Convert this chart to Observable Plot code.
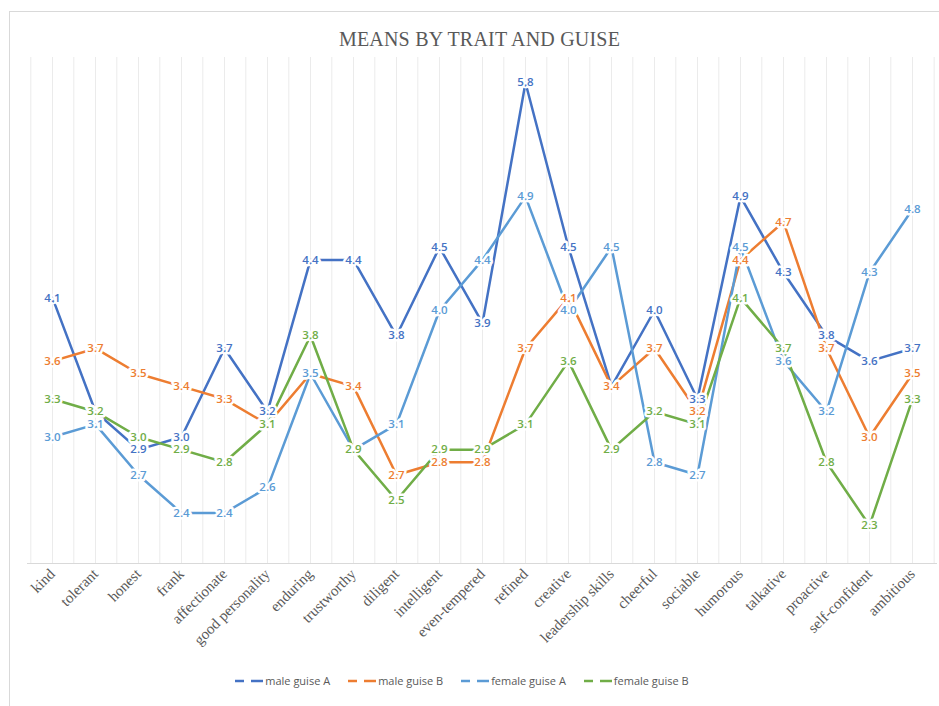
<!DOCTYPE html>
<html><head><meta charset="utf-8">
<script src="https://cdn.jsdelivr.net/npm/d3@7"></script>
<script src="https://cdn.jsdelivr.net/npm/@observablehq/plot@0.6"></script>
<style>
body{margin:0;background:#fff;}
#chart{position:relative;width:939px;height:706px;overflow:hidden;background:#fff;}
#frame{position:absolute;left:9px;top:11px;width:1000px;height:1000px;border:1.5px solid #d9d9d9;box-sizing:border-box;}
#title{position:absolute;top:28px;left:10px;width:939px;text-align:center;font-family:"Liberation Serif",serif;font-size:20px;color:#595959;letter-spacing:0.2px;}
#plot{position:absolute;left:0;top:0;}
#legend{position:absolute;top:673px;left:0;width:923px;display:flex;justify-content:center;gap:17px;font-family:"Open Sans",sans-serif;font-size:11px;color:#595959;}
#legend .item{display:flex;align-items:center;}
#legend svg{margin-right:1px;}
</style>
</head><body>
<div id="chart">
  <div id="frame"></div>
  <div id="plot"></div>
  <div id="title">MEANS BY TRAIT AND GUISE</div>
  <div id="legend"></div>
</div>
<script>
const categories = ["kind","tolerant","honest","frank","affectionate","good personality","enduring","trustworthy","diligent","intelligent","even-tempered","refined","creative","leadership skills","cheerful","sociable","humorous","talkative","proactive","self-confident","ambitious"];
const seriesNames = ["male guise A","male guise B","female guise A","female guise B"];
const maleGuiseA   = [4.1,3.2,2.9,3.0,3.7,3.2,4.4,4.4,3.8,4.5,3.9,5.8,4.5,3.4,4.0,3.3,4.9,4.3,3.8,3.6,3.7];
const maleGuiseB   = [3.6,3.7,3.5,3.4,3.3,3.1,3.5,3.4,2.7,2.8,2.8,3.7,4.1,3.4,3.7,3.2,4.4,4.7,3.7,3.0,3.5];
const femaleGuiseA = [3.0,3.1,2.7,2.4,2.4,2.6,3.5,2.9,3.1,4.0,4.4,4.9,4.0,4.5,2.8,2.7,4.5,3.6,3.2,4.3,4.8];
const femaleGuiseB = [3.3,3.2,3.0,2.9,2.8,3.1,3.8,2.9,2.5,2.9,2.9,3.1,3.6,2.9,3.2,3.1,4.1,3.7,2.8,2.3,3.3];
const colors = ["#4472C4","#ED7D31","#5B9BD5","#70AD47"];

const seriesValues = [maleGuiseA, maleGuiseB, femaleGuiseA, femaleGuiseB];
const data = [];
seriesNames.forEach((s, i) => {
  categories.forEach((c, j) => data.push({series: s, trait: c, value: seriesValues[i][j]}));
});

const W = 939, H = 665, ML = 27, MR = 2, MT = 57, MB = 102;
const step = (W - ML - MR) / categories.length;

const chart = Plot.plot({
  width: W, height: H,
  marginLeft: ML, marginRight: MR, marginTop: MT, marginBottom: MB,
  x: {type: "point", domain: categories, padding: 0.5, label: null},
  y: {domain: [2, 6], axis: null},
  color: {domain: seriesNames, range: colors},
  style: {background: "transparent"},
  marks: [
    Plot.ruleX(categories, {stroke: "#ebebeb", strokeWidth: 1}),
    Plot.ruleX(categories, {dx: -step / 2, stroke: "#ebebeb", strokeWidth: 1}),
    Plot.ruleX(categories.slice(-1), {dx: step / 2, stroke: "#ebebeb", strokeWidth: 1}),
    Plot.ruleY([2], {stroke: "#d9d9d9", strokeWidth: 1}),
    Plot.axisX({tickSize: 0, tickPadding: 8, tickRotate: -45, fontFamily: "Liberation Serif", fontSize: 15, fill: "#595959", label: null}),
    Plot.line(data, {x: "trait", y: "value", z: "series", stroke: "series", strokeWidth: 2.5}),
    Plot.text(data, {x: "trait", y: "value", text: d => d.value.toFixed(1), fill: "series", stroke: "white", strokeWidth: 5, fontFamily: "Open Sans", fontWeight: 600, fontSize: 11.5})
  ]
});
document.getElementById("plot").appendChild(chart);

const legend = document.getElementById("legend");
seriesNames.forEach((s, i) => {
  const item = document.createElement("div");
  item.className = "item";
  item.innerHTML = `<svg width="30" height="10"><line x1="1" y1="5" x2="10" y2="5" stroke="${colors[i]}" stroke-width="2.5"/><line x1="17" y1="5" x2="29" y2="5" stroke="${colors[i]}" stroke-width="2.5"/></svg><span>${s}</span>`;
  legend.appendChild(item);
});
</script>
</body></html>
